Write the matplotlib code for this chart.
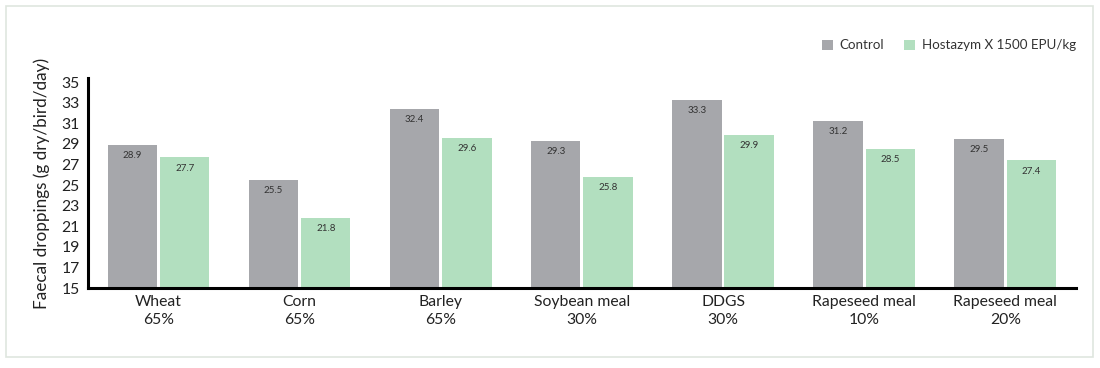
import numpy as np
import matplotlib.pyplot as plt
from matplotlib.patches import Rectangle

plt.rcParams['font.family'] = ['Lato', 'DejaVu Sans']

categories = ["Wheat\n65%", "Corn\n65%", "Barley\n65%", "Soybean meal\n30%",
              "DDGS\n30%", "Rapeseed meal\n10%", "Rapeseed meal\n20%"]
control = [28.9, 25.5, 32.4, 29.3, 33.3, 31.2, 29.5]
hostazym = [27.7, 21.8, 29.6, 25.8, 29.9, 28.5, 27.4]
y_ticks = list(range(15, 36, 2))

gray = "#a6a7ab"
green = "#b2dfbf"

fig = plt.figure(figsize=(11, 3.68), dpi=100)
# light frame around the whole chart
fig.patches.append(Rectangle((0.005, 0.03), 0.989, 0.955, transform=fig.transFigure,
                             fill=False, edgecolor="#dfe6df", linewidth=1.2))

ax = fig.add_axes([0.080, 0.217, 0.898, 0.571])
x = np.arange(len(categories))
w = 0.35
off = 0.185
b1 = ax.bar(x - off, control, w, color=gray, label="Control", zorder=2)
b2 = ax.bar(x + off, hostazym, w, color=green, label="Hostazym X 1500 EPU/kg", zorder=2)

for bars, vals in ((b1, control), (b2, hostazym)):
    for r, v in zip(bars, vals):
        ax.text(r.get_x() + r.get_width() / 2, v - 0.6, f"{v}", ha="center", va="top",
                fontsize=7, color="#333333")

ax.set_ylim(15, 35.4)
ax.set_xlim(-0.5, 6.5)
ax.set_yticks(y_ticks)
ax.set_xticks(x)
ax.set_xticklabels(categories, fontsize=11.3, color="#222222", linespacing=1.35)
ax.tick_params(axis="y", labelsize=11.3, length=0, pad=6, colors="#222222")
ax.tick_params(axis="x", length=0, pad=5)
ax.set_ylabel("Faecal droppings (g dry/bird/day)", fontsize=12.3, color="#222222", labelpad=8)

for s in ("top", "right"):
    ax.spines[s].set_visible(False)
for s in ("left", "bottom"):
    ax.spines[s].set_linewidth(2.2)
    ax.spines[s].set_color("black")

ax.legend(loc="lower right", bbox_to_anchor=(1.012, 1.07), ncol=2, frameon=False,
          fontsize=9.6, handlelength=0.8, handleheight=0.8, handletextpad=0.5,
          columnspacing=1.5, labelcolor="#333333")

fig.savefig("out.png", dpi=100)
